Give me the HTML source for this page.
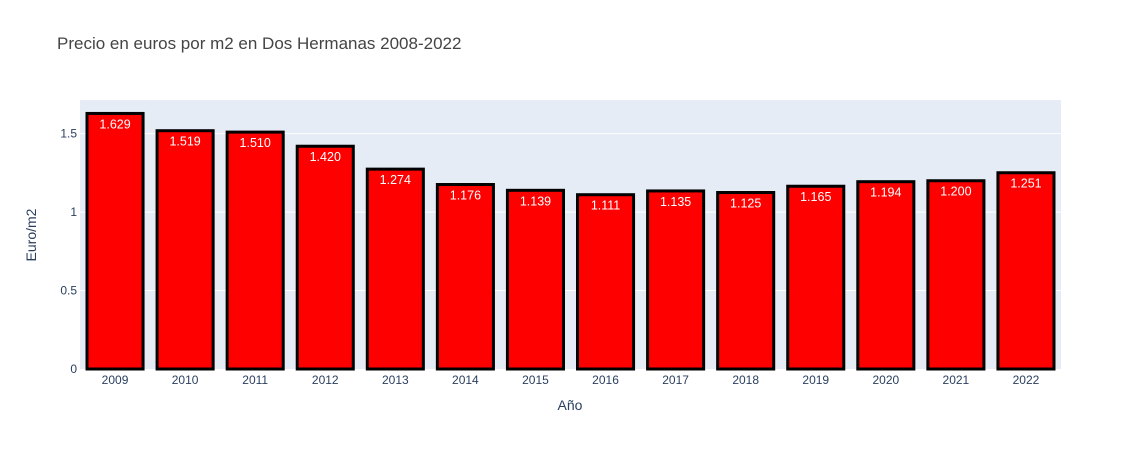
<!DOCTYPE html>
<html><head><meta charset="utf-8"><style>
body{margin:0;background:#fff;}
svg{display:block;font-family:"Liberation Sans",Arial,sans-serif;}
</style></head><body>
<svg id="chart" width="1141" height="450">
<text x="57" y="49" font-size="17" fill="#444">Precio en euros por m2 en Dos Hermanas 2008-2022</text>
<rect x="80" y="100" width="981" height="269" fill="#e5ecf6"/>
<g id="grid"></g>
<g id="bars"></g>
<g id="xticks"></g>
<g id="yticks"></g>
<text x="570" y="410" font-size="14" fill="#2a3f5f" text-anchor="middle">Año</text>
<text x="0" y="0" font-size="14" fill="#2a3f5f" text-anchor="middle" transform="translate(36,235) rotate(-90)">Euro/m2</text>
</svg>
<script>
const years=["2009","2010","2011","2012","2013","2014","2015","2016","2017","2018","2019","2020","2021","2022"];
const values=[1.629,1.519,1.510,1.420,1.274,1.176,1.139,1.111,1.135,1.125,1.165,1.194,1.200,1.251];
const labels=["1.629","1.519","1.510","1.420","1.274","1.176","1.139","1.111","1.135","1.125","1.165","1.194","1.200","1.251"];
const yTicks=[0,0.5,1,1.5];
const yTickLabels=["0","0.5","1","1.5"];
const NS="http://www.w3.org/2000/svg";
const x0=80,x1=1061,y0=369,y1=100,ymax=1.7147;
const band=(x1-x0)/years.length;
const xc=i=>x0+band*(i+0.5);
const y=v=>y0-(v/ymax)*(y0-y1);
function mk(t,a,p){const e=document.createElementNS(NS,t);for(const k in a)e.setAttribute(k,a[k]);p.appendChild(e);return e;}
const grid=document.getElementById('grid'),bars=document.getElementById('bars'),xt=document.getElementById('xticks'),yt=document.getElementById('yticks');
yTicks.forEach((v,i)=>{
 if(v>0){const g=mk('line',{x1:x0,x2:x1,y1:y(v),y2:y(v),stroke:'#fff','stroke-width':1},grid);
 
 }
 const t=mk('text',{x:x0-3,y:y(v)+4,'font-size':12,fill:'#2a3f5f','text-anchor':'end'},yt);t.textContent=yTickLabels[i];
 
 
});
const bw=band*0.8;
values.forEach((v,i)=>{
 const r=mk('rect',{x:xc(i)-bw/2,y:y(v),width:bw,height:y0-y(v),fill:'#ff0000',stroke:'#000','stroke-width':3},bars);
 
 
 const t=mk('text',{x:xc(i),y:y(v)+15,'font-size':12.5,fill:'#fff','text-anchor':'middle'},bars);t.textContent=labels[i];
 
 
 const xl=mk('text',{x:xc(i),y:y0+15,'font-size':12,fill:'#2a3f5f','text-anchor':'middle'},xt);xl.textContent=years[i];
 
 
});
</script>
</body></html>
